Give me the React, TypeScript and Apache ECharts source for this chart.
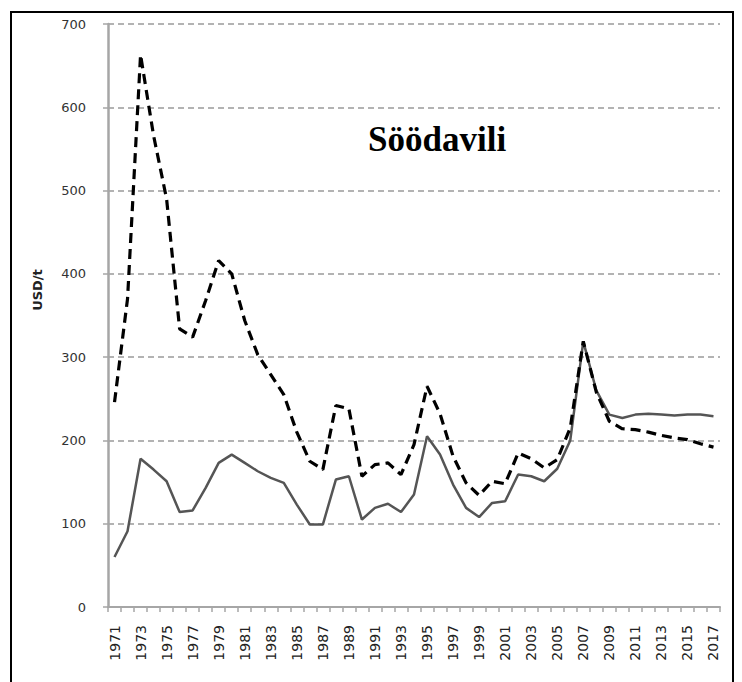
import React, { useEffect, useRef } from "react";
import * as echarts from "echarts";

const years = [
  "1971", "1972", "1973", "1974", "1975", "1976", "1977", "1978", "1979", "1980",
  "1981", "1982", "1983", "1984", "1985", "1986", "1987", "1988", "1989", "1990",
  "1991", "1992", "1993", "1994", "1995", "1996", "1997", "1998", "1999", "2000",
  "2001", "2002", "2003", "2004", "2005", "2006", "2007", "2008", "2009", "2010",
  "2011", "2012", "2013", "2014", "2015", "2016", "2017",
];

// solid grey line
const solidValues = [
  60, 91, 178, 165, 151, 114, 116, 143, 173, 183,
  173, 163, 155, 149, 123, 99, 99, 153, 157, 105,
  119, 124, 114, 135, 205, 183, 147, 119, 108, 125,
  127, 159, 157, 151, 166, 200, 319, 260, 231, 227,
  231, 232, 231, 230, 231, 231, 229,
];

// dashed black line
const dashedValues = [
  246, 370, 663, 566, 490, 334, 324, 368, 416, 400,
  344, 303, 279, 255, 210, 175, 165, 242, 238, 157,
  171, 173, 159, 195, 265, 232, 181, 149, 134, 151,
  148, 185, 178, 167, 177, 215, 319, 258, 223, 214,
  213, 210, 206, 203, 201, 196, 192,
];

const yAxisName = "USD/t";
const annotation = "Söödavili";

export default function App() {
  const ref = useRef<HTMLDivElement>(null);
  useEffect(() => {
    document.body.style.margin = "0";
    const chart = echarts.init(ref.current!, null, { renderer: "svg" });
    chart.setOption({
      animation: false,
      backgroundColor: "#ffffff",
      grid: { left: 108, right: 22, top: 24, bottom: 75, containLabel: false },
      xAxis: {
        type: "category",
        data: years,
        boundaryGap: true,
        axisLine: { show: true, lineStyle: { color: "#a6a6a6", width: 2 } },
        axisTick: { show: true, interval: 0, length: 5, lineStyle: { color: "#a6a6a6", width: 1.5 } },
        axisLabel: {
          interval: 1,
          rotate: 90,
          margin: 18,
          fontSize: 14,
          fontFamily: "DejaVu Sans",
          color: "#222",
        },
        splitLine: { show: false },
      },
      yAxis: {
        type: "value",
        min: 0,
        max: 700,
        interval: 100,
        axisLine: { show: true, lineStyle: { color: "#a6a6a6", width: 2.5 } },
        axisTick: { show: true, length: 5, lineStyle: { color: "#a6a6a6", width: 1.5 } },
        axisLabel: {
          margin: 22,
          fontSize: 13,
          fontFamily: "DejaVu Sans",
          color: "#333",
        },
        splitLine: {
          show: true,
          lineStyle: { color: "#9a9a9a", width: 1.5, type: [6, 4] },
        },
      },
      series: [
        {
          type: "line",
          data: solidValues,
          symbol: "none",
          lineStyle: { color: "#555555", width: 2.5, type: "solid" },
          z: 2,
        },
        {
          type: "line",
          data: dashedValues,
          symbol: "none",
          lineStyle: { color: "#000000", width: 3.2, type: [10, 6] },
          z: 3,
        },
      ],
      graphic: [
        {
          type: "rect",
          silent: true,
          shape: { x: 11, y: 12, width: 722, height: 700 },
          style: { fill: "none", stroke: "#000", lineWidth: 2 },
          z: 10,
        },
        {
          type: "text",
          x: 37,
          y: 290,
          rotation: Math.PI / 2,
          style: {
            text: yAxisName,
            fontSize: 13,
            fontWeight: "bold",
            fontFamily: "DejaVu Sans",
            fill: "#222",
            align: "center",
            verticalAlign: "middle",
          },
        },
        {
          type: "text",
          x: 368,
          y: 122,
          style: {
            text: annotation,
            fontSize: 35,
            fontWeight: "bold",
            fontFamily: "Liberation Serif",
            fill: "#000",
            align: "left",
            verticalAlign: "top",
          },
        },
      ],
    });
    return () => chart.dispose();
  }, []);
  return (
    <div
      ref={ref}
      style={{ position: "fixed", left: 0, top: 0, width: 742, height: 682, background: "#fff" }}
    />
  );
}
